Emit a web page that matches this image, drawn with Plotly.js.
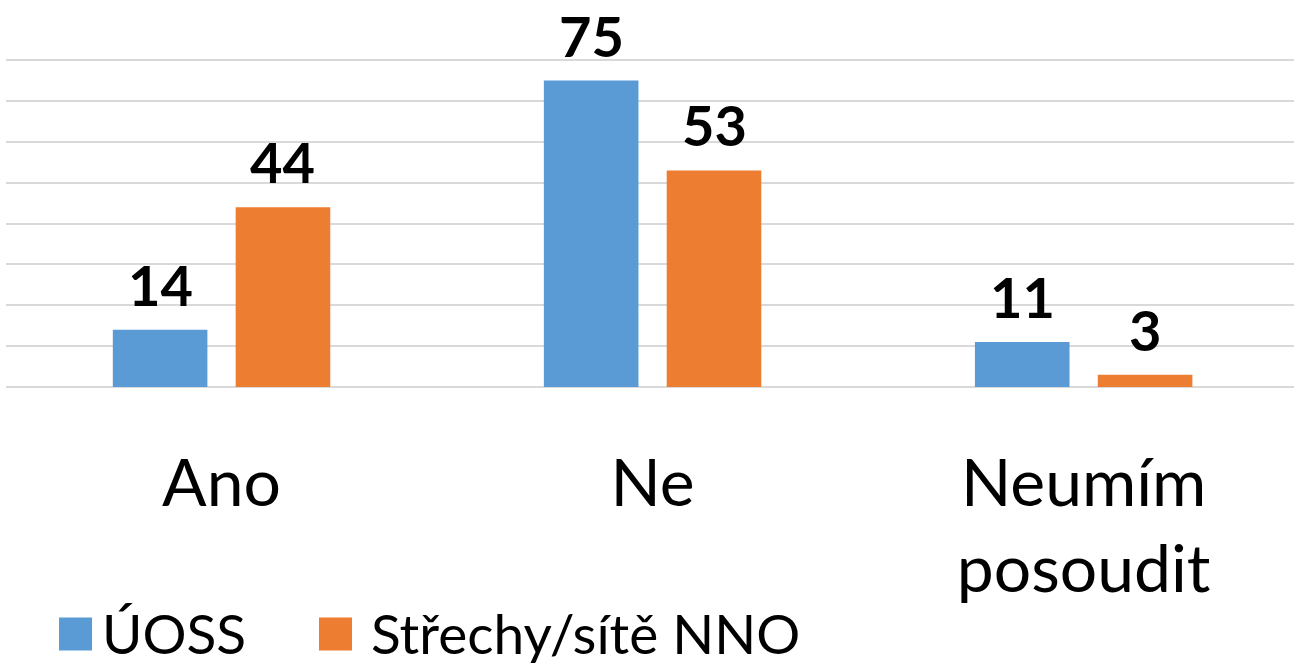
<!DOCTYPE html>
<html>
<head>
<meta charset="utf-8">
<script src="https://cdn.plot.ly/plotly-3.0.1.min.js"></script>
<style>
html,body{margin:0;padding:0;background:#fff;}
#chart{width:1294px;height:667px;}
</style>
</head>
<body>
<div id="chart"></div>
<script>
const categories = ["Ano", "Ne", "Neumím<br>posoudit"];
const seriesNames = ["ÚOSS", "Střechy/sítě NNO"];
const uossValues = [14, 75, 11];
const nnoValues = [44, 53, 3];
const colors = ["#5b9bd5", "#ed7d31"];

const FONT = "Lato, 'Open Sans', sans-serif";
const BARGAP = 0.43, BARGROUPGAP = 0.23;
const xIdx = categories.map((c, i) => i);
const half = (1 - BARGAP) / 4; // offset of each bar centre from the category centre

const traces = [
  {type: "bar", name: seriesNames[0], x: xIdx, y: uossValues, marker: {color: colors[0]}, hoverinfo: "y+name", legend: "legend"},
  {type: "bar", name: seriesNames[1], x: xIdx, y: nnoValues, marker: {color: colors[1]}, hoverinfo: "y+name", legend: "legend2"}
];

const annotations = [];
[uossValues, nnoValues].forEach(function(vals, s){
  vals.forEach(function(v, i){
    annotations.push({
      xref: "x", yref: "y", x: i + (s === 0 ? -half : half), y: v,
      text: String(v), showarrow: false, xanchor: "center", yanchor: "bottom", yshift: 10,
      font: {family: FONT, size: 56, color: "#000", weight: 700}
    });
  });
});

const legendFont = {family: FONT, size: 55, color: "#000"};

const layout = {
  width: 1294, height: 667,
  margin: {l: 6, r: 0, t: 56, b: 280, pad: 0, autoexpand: false},
  paper_bgcolor: "#fff", plot_bgcolor: "#fff",
  barmode: "group", bargap: BARGAP, bargroupgap: BARGROUPGAP,
  font: {family: FONT, color: "#000"},
  xaxis: {
    type: "linear", range: [-0.5, 2.488], tickvals: xIdx, ticktext: categories,
    showgrid: false, zeroline: false, showline: false, automargin: false,
    ticks: "outside", ticklen: 39, tickcolor: "rgba(0,0,0,0)",
    tickfont: {family: FONT, size: 66, color: "#000"}
  },
  yaxis: {
    range: [0, 81], tickvals: [0, 10, 20, 30, 40, 50, 60, 70, 80], showticklabels: false, automargin: false,
    showgrid: true, gridcolor: "#d9d9d9", gridwidth: 2,
    zeroline: true, zerolinecolor: "#d9d9d9", zerolinewidth: 2, showline: false
  },
  annotations: annotations,
  showlegend: true,
  legend: {orientation: "h", xref: "container", yref: "container", x: 0.0433, xanchor: "left", y: 0.052, yanchor: "middle",
    itemwidth: 36, font: legendFont, bgcolor: "rgba(0,0,0,0)"},
  legend2: {orientation: "h", xref: "container", yref: "container", x: 0.2442, xanchor: "left", y: 0.052, yanchor: "middle",
    itemwidth: 45, font: legendFont, bgcolor: "rgba(0,0,0,0)"}
};

Plotly.newPlot("chart", traces, layout, {displayModeBar: false, staticPlot: true}).then(function(gd){
  gd.querySelectorAll(".legendpoints path").forEach(function(p){
    p.setAttribute("d", "M16.5,16.5H-16.5V-16.5H16.5Z");
    p.setAttribute("transform", "translate(19.5,2)");
  });
});
</script>
</body>
</html>
